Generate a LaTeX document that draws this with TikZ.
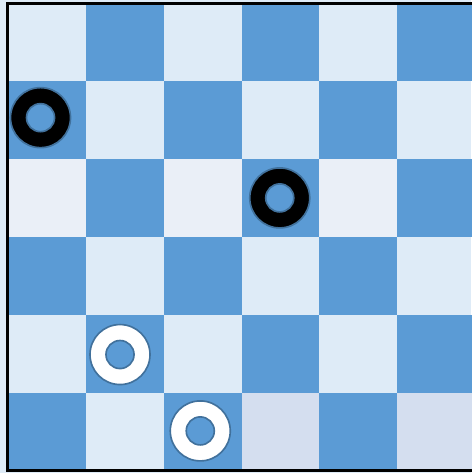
\documentclass[tikz,border=0pt]{standalone}
\usepackage{xcolor}
\usepackage{tikz}

\definecolor{darksq}{HTML}{5B9BD5}
\definecolor{lightsq}{HTML}{DEEBF7}
\definecolor{palesq}{HTML}{EAEFF7}
\definecolor{lilacsq}{HTML}{D4DEEF}
\definecolor{rimblue}{HTML}{41719C}

\tikzset{
  blackman/.style={fill=black, draw=rimblue, line width=0.6pt, even odd rule},
  whiteman/.style={fill=white, draw=rimblue, line width=0.6pt, even odd rule}
}

\begin{document}
\begin{tikzpicture}
\useasboundingbox (-0.1,-0.03) rectangle (5.95,6.04);
\fill[lightsq] (-0.1,-0.03) rectangle (5.95,6.04);

% dark squares, counted from the top row
\foreach \c in {0,...,5}
  \foreach \r in {0,...,5}{
    \pgfmathtruncatemacro{\s}{mod(\c+\r,2)}
    \ifnum\s=1 \fill[darksq] (\c,5-\r) rectangle ++(1,1); \fi
  }

% odd light squares
\fill[palesq] (0,3) rectangle (1,4);
\fill[palesq] (2,3) rectangle (3,4);
\fill[palesq] (4,3) rectangle (5,4);
\fill[lilacsq] (3,0) rectangle (4,1);
\fill[lilacsq] (5,0) rectangle (6,1);

% board edge
\draw[line width=1.1pt] (0,0) rectangle (6.3,6);

% pieces
\path[blackman] (0.42,4.53) circle (0.385) circle (0.18);
\path[blackman] (3.49,3.50) circle (0.385) circle (0.18);
\path[whiteman] (1.44,1.49) circle (0.385) circle (0.18);
\path[whiteman] (2.47,0.51) circle (0.385) circle (0.18);
\end{tikzpicture}
\end{document}
